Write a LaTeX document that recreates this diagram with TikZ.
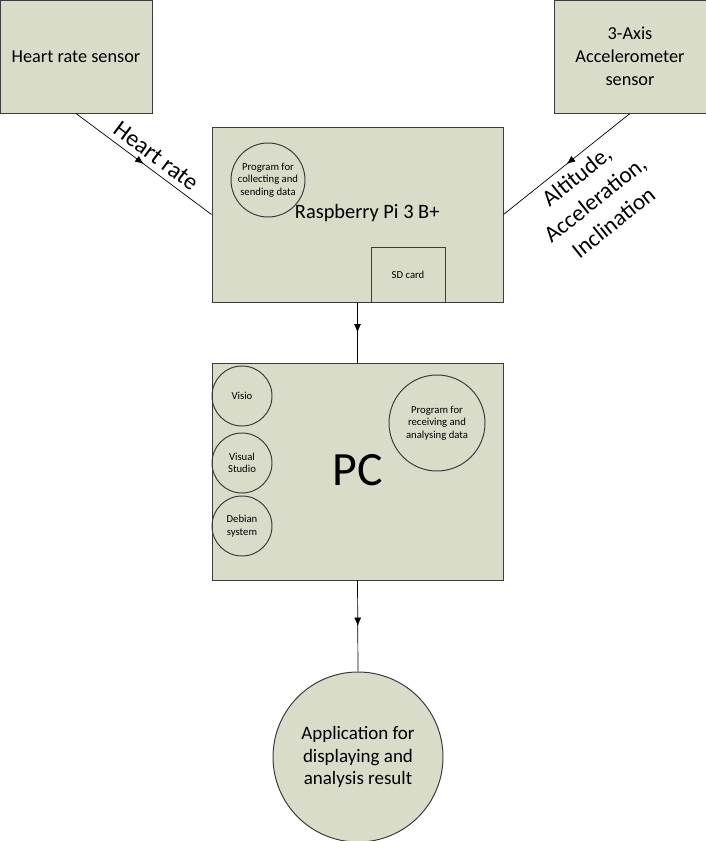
\documentclass[tikz,border=0pt]{standalone}
\usepackage{fontspec}
\setmainfont{Carlito}
\usetikzlibrary{arrows.meta,decorations.markings}
\definecolor{boxfill}{RGB}{216,220,200}
\definecolor{boxline}{RGB}{60,60,60}
\begin{document}
\begin{tikzpicture}[
    block/.style={draw=boxline, line width=0.7pt, fill=boxfill, align=center, inner sep=0pt},
    unit/.style={draw=boxline, line width=0.7pt, circle, align=center, inner sep=0pt, font=\fontsize{7.6}{9}\selectfont},
    midarrow/.style={draw=black, line width=0.5pt, postaction={decorate},
        decoration={markings, mark=at position 0.5 with {\arrow{Latex[length=6pt,width=5pt]}}}}
]
\useasboundingbox (0,0) rectangle (17.65,-21.025);

% Sensors
\node[block, minimum width=3.8cm, minimum height=2.825cm, font=\fontsize{13}{16.4}\selectfont] (heart) at (1.9,-1.4125) {Heart rate sensor};
\node[block, minimum width=3.8cm, minimum height=2.825cm, font=\fontsize{13}{16.4}\selectfont] (accel) at (15.75,-1.4125) {3-Axis\\Accelerometer\\sensor};

% Raspberry Pi
\node[block, minimum width=7.275cm, minimum height=4.375cm] (rpi) at (8.9375,-5.3625) {};
\node[font=\fontsize{14.5}{17}\selectfont] (rpitext) at (9.18,-5.33) {Raspberry Pi 3 B+};
\node[unit, minimum size=1.85cm] (collect) at (6.7,-4.5) {Program for\\collecting and\\sending data};
\node[block, minimum width=1.85cm, minimum height=1.375cm, font=\fontsize{7.6}{9}\selectfont] (sd) at (10.2,-6.8625) {SD card};

% PC
\node[block, minimum width=7.275cm, minimum height=5.425cm] (pc) at (8.9375,-11.7875) {};
\node[font=\fontsize{34}{40}\selectfont] (pctext) at (8.95,-11.75) {PC};
\node[unit, minimum size=1.5cm] (visio) at (6.05,-9.9) {Visio};
\node[unit, minimum size=1.5cm] (vs) at (6.05,-11.575) {Visual\\Studio};
\node[unit, minimum size=1.5cm] (debian) at (6.05,-13.15) {Debian\\system};
\node[unit, minimum size=2.4cm] (receive) at (10.925,-10.575) {Program for\\receiving and\\analysing data};

% Application
\node[unit, fill=boxfill, minimum size=4.25cm, font=\fontsize{13.5}{15.8}\selectfont] (app) at (8.95,-18.925) {Application for\\displaying and\\analysis result};

% Connectors
\draw[midarrow] (heart.south) -- node[pos=0.53, sloped, above=3pt, fill=white, inner sep=1pt, font=\fontsize{17}{20}\selectfont] {Heart rate} (rpi.west);
\draw[midarrow] (accel.south) -- node[sloped, below=2pt, align=center, inner sep=3pt, font=\fontsize{16.5}{21}\selectfont] {Altitude,\\Acceleration,\\Inclination} (rpi.east);
\draw[midarrow] (rpi.south) -- (pc.north);
\draw[midarrow] (pc.south) -- (app.north);

\end{tikzpicture}
\end{document}
